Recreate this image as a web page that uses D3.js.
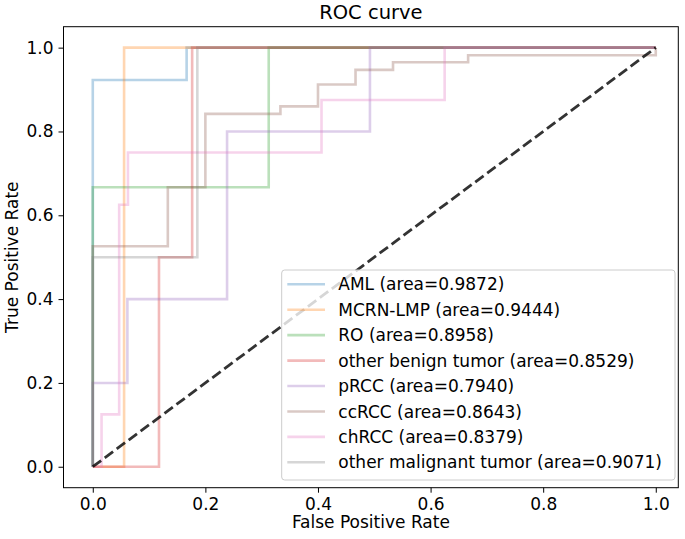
<!DOCTYPE html>
<html>
<head>
<meta charset="utf-8">
<script src="https://cdn.jsdelivr.net/npm/d3@7"></script>
<style>
  body { margin: 0; background: #fff; }
  text { font-family: "DejaVu Sans", sans-serif; fill: #000; }
</style>
</head>
<body>
<svg id="chart" width="685" height="539"></svg>
<script>
// ROC curve data
const classNames = ['AML', 'MCRN-LMP', 'RO', 'other benign tumor', 'pRCC', 'ccRCC', 'chRCC', 'other malignant tumor'];
const aucValues = [0.9872, 0.9444, 0.8958, 0.8529, 0.7940, 0.8643, 0.8379, 0.9071];

const fprAML = [0, 0, 0.1667, 0.1667, 1];
const tprAML = [0, 0.923, 0.923, 1, 1];
const fprMCRN = [0, 0.0556, 0.0556, 1];
const tprMCRN = [0, 0, 1, 1];
const fprRO = [0, 0, 0.3125, 0.3125, 1];
const tprRO = [0, 0.667, 0.667, 1, 1];
const fprBenign = [0, 0.1176, 0.1176, 0.1765, 0.1765, 1];
const tprBenign = [0, 0, 0.5, 0.5, 1, 1];
const fprPRCC = [0, 0, 0.0615, 0.0615, 0.2385, 0.2385, 0.4923, 0.4923, 1];
const tprPRCC = [0, 0.2, 0.2, 0.4, 0.4, 0.8, 0.8, 1, 1];
const fprCcRCC = [0, 0, 0.1333, 0.1333, 0.2, 0.2, 0.3333, 0.3333, 0.4, 0.4, 0.4667, 0.4667, 0.5333, 0.5333, 0.6667, 0.6667, 1, 1];
const tprCcRCC = [0, 0.526, 0.526, 0.667, 0.667, 0.842, 0.842, 0.86, 0.86, 0.912, 0.912, 0.947, 0.947, 0.965, 0.965, 0.982, 0.982, 1];
const fprChRCC = [0, 0.0156, 0.0156, 0.0469, 0.0469, 0.0625, 0.0625, 0.4063, 0.4063, 0.625, 0.625, 1];
const tprChRCC = [0, 0, 0.125, 0.125, 0.625, 0.625, 0.75, 0.75, 0.875, 0.875, 1, 1];
const fprMalignant = [0, 0, 0.1857, 0.1857, 1];
const tprMalignant = [0, 0.5, 0.5, 1, 1];

const xTicks = [0, 0.2, 0.4, 0.6, 0.8, 1.0];
const yTicks = [0, 0.2, 0.4, 0.6, 0.8, 1.0];

const colors = ['#1f77b4', '#ff7f0e', '#2ca02c', '#d62728', '#9467bd', '#8c564b', '#e377c2', '#7f7f7f'];

const curves = [
    [fprAML, tprAML], [fprMCRN, tprMCRN], [fprRO, tprRO], [fprBenign, tprBenign],
    [fprPRCC, tprPRCC], [fprCcRCC, tprCcRCC], [fprChRCC, tprChRCC], [fprMalignant, tprMalignant]
].map(function (c, i) {
    return {
        name: classNames[i],
        auc: aucValues[i],
        color: colors[i],
        points: c[0].map(function (f, j) { return [f, c[1][j]]; })
    };
});

const svg = d3.select('#chart');
const plot = { left: 63.5, right: 678.3, top: 26.7, bottom: 487.7 };

const x = d3.scaleLinear().domain([-0.052, 1.04]).range([plot.left, plot.right]);
const y = d3.scaleLinear().domain([-0.05, 1.05]).range([plot.bottom, plot.top]);

const line = d3.line()
    .x(function (d) { return x(d[0]); })
    .y(function (d) { return y(d[1]); });

const g = svg.append('g');

g.selectAll('path.roc')
    .data(curves)
    .enter().append('path')
    .attr('class', 'roc')
    .attr('d', function (d) { return line(d.points); })
    .attr('fill', 'none')
    .attr('stroke', function (d) { return d.color; })
    .attr('stroke-opacity', 0.32)
    .attr('stroke-width', 2.6);

// chance line
g.append('path')
    .attr('d', line([[0, 0], [1, 1]]))
    .attr('fill', 'none')
    .attr('stroke', '#000')
    .attr('stroke-opacity', 0.8)
    .attr('stroke-width', 2.8)
    .attr('stroke-dasharray', '10.4,4.5');

// axes
const xAxis = d3.axisBottom(x).tickValues(xTicks).tickFormat(d3.format('.1f')).tickSize(5).tickPadding(5);
const yAxis = d3.axisLeft(y).tickValues(yTicks).tickFormat(d3.format('.1f')).tickSize(5).tickPadding(5);

const gx = svg.append('g').attr('transform', 'translate(0,' + plot.bottom + ')').call(xAxis);
const gy = svg.append('g').attr('transform', 'translate(' + plot.left + ',0)').call(yAxis);
[gx, gy].forEach(function (a) {
    a.select('.domain').remove();
    a.selectAll('.tick line').attr('stroke', '#000').attr('stroke-width', 1);
    a.selectAll('.tick text').style('font-size', '17px').attr('fill', '#000');
});

svg.append('rect')
    .attr('x', plot.left).attr('y', plot.top)
    .attr('width', plot.right - plot.left).attr('height', plot.bottom - plot.top)
    .attr('fill', 'none').attr('stroke', '#000').attr('stroke-width', 1);

svg.append('text')
    .attr('x', (plot.left + plot.right) / 2).attr('y', 19)
    .attr('text-anchor', 'middle').style('font-size', '19.5px')
    .text('ROC curve');

svg.append('text')
    .attr('x', (plot.left + plot.right) / 2).attr('y', 528)
    .attr('text-anchor', 'middle').style('font-size', '17px')
    .text('False Positive Rate');

svg.append('text')
    .attr('transform', 'translate(18,' + (plot.top + plot.bottom) / 2 + ') rotate(-90)')
    .attr('text-anchor', 'middle').style('font-size', '17px')
    .text('True Positive Rate');

// legend
const legend = svg.append('g').attr('transform', 'translate(281.7,270)');
legend.append('rect')
    .attr('width', 393.3).attr('height', 210)
    .attr('rx', 3).attr('ry', 3)
    .attr('fill', '#fff').attr('fill-opacity', 0.8)
    .attr('stroke', '#ccc').attr('stroke-width', 1);

const rows = legend.selectAll('g.row')
    .data(curves)
    .enter().append('g')
    .attr('class', 'row')
    .attr('transform', function (d, i) { return 'translate(0,' + (14.3 + i * 25.43) + ')'; });

rows.append('line')
    .attr('x1', 5.6).attr('x2', 43.3)
    .attr('stroke', function (d) { return d.color; })
    .attr('stroke-opacity', 0.32)
    .attr('stroke-width', 2.6);

rows.append('text')
    .attr('x', 56.6).attr('dy', '0.36em')
    .style('font-size', '17px')
    .text(function (d) { return d.name + ' (area=' + d.auc.toFixed(4) + ')'; });
</script>
</body>
</html>
